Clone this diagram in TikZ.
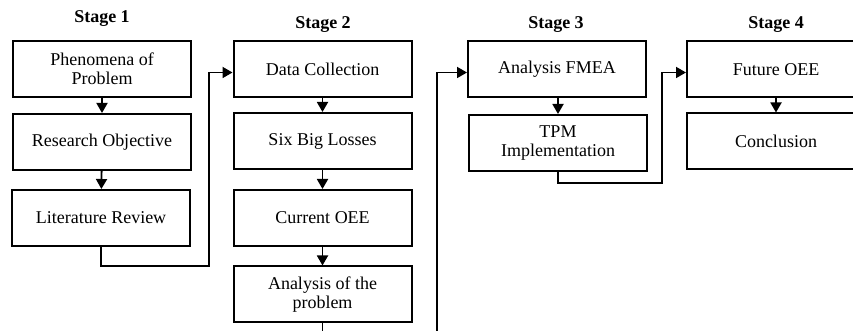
\documentclass[tikz,border=0pt]{standalone}
\usepackage{fontspec}
\setmainfont{Liberation Serif}
\usetikzlibrary{arrows.meta}
\tikzset{
  font=\fontsize{9}{9.5}\selectfont,
  stepbox/.style ={draw, align=center, inner sep=2pt, minimum width=89pt, minimum height=28pt, line width=1pt},
  stage/.style   ={font=\fontsize{9}{10}\selectfont\bfseries},
  arr/.style     ={-{Triangle[length=5pt, width=5.5pt]}, line width=0.9pt},
}

\begin{document}
\begin{tikzpicture}[x=0.5pt, y=-0.5pt]
  \useasboundingbox (0,0) rectangle (853,331);
  \clip (0,0) rectangle (853,331);

  % stage headings
  \node[stage] (s1) at (102,19) {Stage 1};
  \node[stage] (s2) at (323,25) {Stage 2};
  \node[stage] (s3) at (556,25) {Stage 3};
  \node[stage] (s4) at (776,25) {Stage 4};

  % stage 1
  \node[stepbox] (phen) at (102,69)  {Phenomena of\\Problem};
  \node[stepbox] (obj)  at (102,142) {Research Objective};
  \node[stepbox] (lit)  at (101,218) {Literature Review};

  % stage 2
  \node[stepbox] (data) at (322.5,69.5)  {Data Collection};
  \node[stepbox] (six)  at (322.5,141)   {Six Big Losses};
  \node[stepbox] (cur)  at (322.5,218)   {Current OEE};
  \node[stepbox] (anl)  at (322.5,294.5) {Analysis of the\\problem};

  % stage 3 and 4
  \node[stepbox] (fmea) at (557,69.5)  {Analysis FMEA};
  \node[stepbox] (tpm)  at (558,143)   {TPM\\Implementation};
  \node[stepbox] (fut)  at (776,69.5)  {Future OEE};
  \node[stepbox] (conc) at (776,141.5) {Conclusion};

  % bends between the stages
  \coordinate (j1) at (209,266);
  \coordinate (j2) at (437,350);
  \coordinate (j3) at (662,183);

  \draw[arr] (phen) -- (obj);  \draw[arr] (obj) -- (lit);
  \draw[arr] (data) -- (six);  \draw[arr] (six) -- (cur);  \draw[arr] (cur) -- (anl);
  \draw[arr] (fmea.south -| tpm.south) -- (tpm);
  \draw[arr] (fut) -- (conc);
  \draw[arr] (lit.south) |- (j1) |- ([yshift=-1.5]data.west);
  \draw[arr] (anl.south) |- (j2) |- ([yshift=-1.5]fmea.west);
  \draw[arr] (tpm.south) |- (j3) |- ([yshift=-1.5]fut.west);
\end{tikzpicture}
\end{document}
